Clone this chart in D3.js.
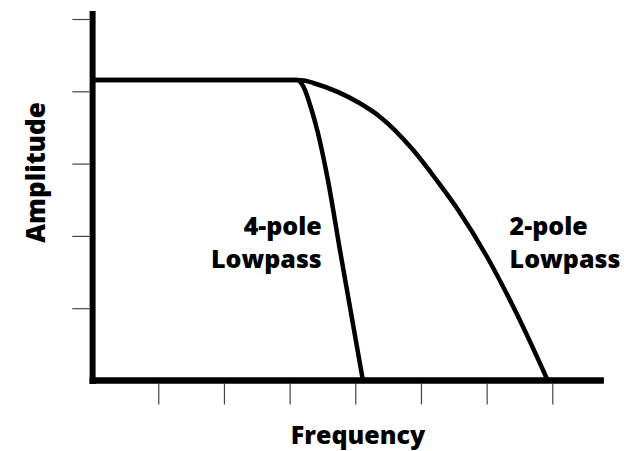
<!DOCTYPE html>
<html>
<head>
<meta charset="utf-8">
<script src="https://cdn.jsdelivr.net/npm/d3@7/dist/d3.min.js"></script>
<style>
  html, body { margin: 0; padding: 0; background: #fff; }
  svg { display: block; }
  text { font-family: "Open Sans", "Noto Sans", sans-serif; font-weight: 800; fill: #000; }
</style>
</head>
<body>
<svg id="chart" width="624" height="451"></svg>
<script>
// Filter response sketch: amplitude vs. frequency (arbitrary units)
const xTicks = [1, 2, 3, 4, 5, 6, 7];
const yTicks = [1, 2, 3, 4, 5];

// 4-pole lowpass response
const fourPoleFreq = [0, 3.11, 3.21, 3.335, 3.42, 3.583, 3.766, 4.116];
const fourPoleAmp  = [4.156, 4.156, 4.064, 3.741, 3.465, 2.773, 1.805, 0.0];

// 2-pole lowpass response
const twoPoleFreq = [0, 3.11, 3.24, 3.36, 4.07, 4.374, 4.881, 5.237, 5.566, 5.999, 6.455, 6.93];
const twoPoleAmp  = [4.156, 4.156, 4.145, 4.115, 3.834, 3.649, 3.188, 2.773, 2.359, 1.722, 0.929, 0.0];

const labels = [
  { lines: ["4-pole", "Lowpass"], freq: 3.49, anchor: "end" },
  { lines: ["2-pole", "Lowpass"], freq: 6.35, anchor: "start" }
];

const svg = d3.select("#chart");

const x = d3.scaleLinear().domain([0, 7]).range([92.6, 552.3]);
const y = d3.scaleLinear().domain([0, 5]).range([380.5, 19]);

// tick marks (thin, grey) sit outside the heavy axis lines
svg.append("g")
  .attr("transform", `translate(0,${y(0) + 3})`)
  .call(d3.axisBottom(x).tickValues(xTicks).tickSize(21).tickFormat(""))
  .call(g => g.select(".domain").remove())
  .call(g => g.selectAll(".tick line").attr("stroke", "#444").attr("stroke-width", 1.2));

svg.append("g")
  .attr("transform", `translate(${x(0) - 3.3},0)`)
  .call(d3.axisLeft(y).tickValues(yTicks).tickSize(17).tickFormat(""))
  .call(g => g.select(".domain").remove())
  .call(g => g.selectAll(".tick line").attr("stroke", "#444").attr("stroke-width", 1.2));

// heavy axis lines
svg.append("line")
  .attr("x1", x(0)).attr("x2", x(0))
  .attr("y1", y(5.11)).attr("y2", y(0) + 3.5)
  .attr("stroke", "#000").attr("stroke-width", 6);

svg.append("line")
  .attr("x1", x(0) - 3).attr("x2", x(7.786))
  .attr("y1", y(0)).attr("y2", y(0))
  .attr("stroke", "#000").attr("stroke-width", 6.5);

const line = d3.line()
  .x(d => x(d[0]))
  .y(d => y(d[1]))
  .curve(d3.curveMonotoneX);

const series = [
  d3.zip(twoPoleFreq, twoPoleAmp),
  d3.zip(fourPoleFreq, fourPoleAmp)
];

svg.selectAll("path.curve")
  .data(series)
  .join("path")
  .attr("class", "curve")
  .attr("d", line)
  .attr("fill", "none")
  .attr("stroke", "#000")
  .attr("stroke-width", 4.5)
  .attr("stroke-linejoin", "round");

// curve labels
labels.forEach(l => {
  const t = svg.append("text")
    .attr("x", x(l.freq))
    .attr("y", 235)
    .attr("text-anchor", l.anchor)
    .style("font-size", "25px");
  l.lines.forEach((s, i) => {
    t.append("tspan")
      .attr("x", x(l.freq))
      .attr("dy", i === 0 ? 0 : 33.3)
      .text(s);
  });
});

// axis titles
svg.append("text")
  .attr("x", 358)
  .attr("y", 444)
  .attr("text-anchor", "middle")
  .style("font-size", "25px")
  .text("Frequency");

svg.append("text")
  .attr("transform", "translate(45,172.5) rotate(-90)")
  .attr("text-anchor", "middle")
  .style("font-size", "26px")
  .text("Amplitude");
</script>
</body>
</html>
